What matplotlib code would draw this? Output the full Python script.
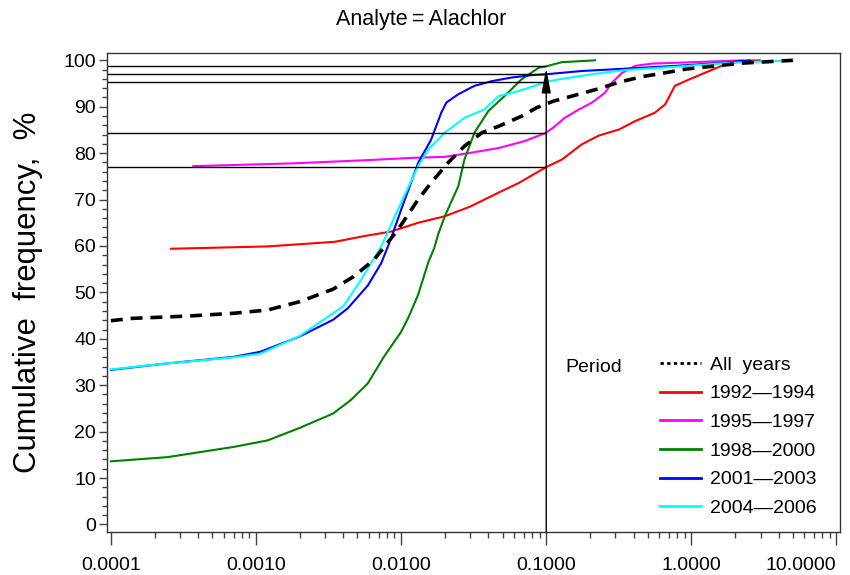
import matplotlib
matplotlib.use("Agg")
import matplotlib.pyplot as plt
from matplotlib.lines import Line2D
from matplotlib.ticker import FixedLocator, FixedFormatter, MultipleLocator

plt.rcParams['font.family'] = ['Liberation Sans', 'DejaVu Sans']

# cumulative frequency curves, concentration (x) vs cumulative % (y)
red_x = [0.00026, 0.0012, 0.0035, 0.0055, 0.0085, 0.0131, 0.020, 0.030, 0.047, 0.065, 0.100, 0.128,
         0.176, 0.231, 0.318, 0.41, 0.56, 0.66, 0.77, 0.97, 1.33, 1.64, 2.25, 2.96]
red_y = [59.4, 59.9, 60.9, 62.1, 63.1, 65.0, 66.4, 68.5, 71.5, 73.6, 77.0, 78.6,
         81.9, 83.8, 85.1, 86.9, 88.7, 90.5, 94.5, 95.9, 97.7, 98.9, 99.9, 100.0]

magenta_x = [0.00037, 0.0018, 0.0059, 0.0123, 0.020, 0.0305, 0.047, 0.071, 0.100, 0.115, 0.134,
             0.168, 0.207, 0.254, 0.284, 0.333, 0.41, 0.54, 1.02, 2.25]
magenta_y = [77.2, 77.8, 78.5, 79.0, 79.2, 80.1, 81.1, 82.6, 84.4, 85.8, 87.6,
             89.4, 90.9, 93.0, 95.2, 97.3, 98.8, 99.3, 99.6, 100.0]

green_x = [0.0001, 0.000245, 0.0007, 0.0012, 0.002, 0.0034, 0.0045, 0.0059, 0.0076, 0.010, 0.0112,
           0.0131, 0.0154, 0.0169, 0.018, 0.020, 0.0248, 0.0273, 0.032, 0.040, 0.0516, 0.0676,
           0.0887, 0.100, 0.128, 0.217]
green_y = [13.6, 14.5, 16.7, 18.1, 20.8, 23.9, 26.8, 30.4, 36.1, 41.5, 44.5,
           49.5, 56.5, 59.5, 62.5, 66.4, 72.9, 78.6, 84.4, 89.1, 92.3, 95.9,
           98.4, 98.7, 99.6, 100.0]

blue_x = [0.0001, 0.000245, 0.0007, 0.00107, 0.002, 0.0034, 0.0043, 0.0059, 0.0073, 0.0085, 0.010,
          0.0117, 0.0131, 0.0161, 0.0189, 0.0205, 0.0248, 0.032, 0.042, 0.058, 0.079, 0.100,
          0.176, 0.35, 0.77, 1.72, 2.52]
blue_y = [33.3, 34.7, 36.1, 37.2, 40.5, 44.1, 46.6, 51.5, 56.3, 61.5, 67.8,
          73.6, 77.9, 82.9, 88.7, 90.9, 92.7, 94.5, 95.5, 96.3, 96.8, 97.0,
          97.7, 98.2, 98.8, 99.5, 100.0]

cyan_x = [0.0001, 0.000245, 0.0007, 0.00107, 0.002, 0.004, 0.0053, 0.0073, 0.010, 0.0131, 0.0154,
          0.020, 0.0273, 0.0375, 0.047, 0.065, 0.089, 0.100, 0.128, 0.207, 0.35, 0.77, 1.72, 5.0]
cyan_y = [33.4, 34.7, 36.0, 36.8, 40.6, 47.0, 52.7, 59.9, 69.3, 77.2, 80.8,
          84.4, 87.6, 89.4, 92.3, 93.4, 94.8, 95.4, 96.0, 97.0, 97.9, 98.6, 99.4, 100.0]

all_x = [0.0001, 0.00014, 0.00034, 0.0007, 0.0012, 0.002, 0.0034, 0.0047, 0.0065, 0.0095, 0.0131,
         0.0161, 0.021, 0.0273, 0.036, 0.047, 0.068, 0.086, 0.112, 0.168, 0.231, 0.318, 0.46,
         0.63, 0.91, 1.47, 2.25, 5.0]
all_y = [43.9, 44.4, 44.9, 45.5, 46.2, 48.0, 50.7, 53.4, 57.0, 63.5, 70.0,
         73.6, 77.9, 81.5, 84.4, 85.8, 88.0, 89.8, 91.2, 92.7, 93.9, 95.3, 96.5,
         97.2, 98.1, 98.8, 99.4, 100.0]

periods = ["1992\u20141994", "1995\u20141997", "1998\u20142000", "2001\u20142003", "2004\u20142006"]
colors = ["#ff0000", "#ff00ff", "#008000", "#0000ff", "#00ffff"]

# reference cut-off and the level each period reaches there
cutoff = 0.1
ref_levels = [77.0, 84.4, 95.4, 97.0, 98.7]

x_ticks = [0.0001, 0.001, 0.01, 0.1, 1, 10]
x_labels = ["0.0001", "0.0010", "0.0100", "0.1000", "1.0000", "10.0000"]

fig = plt.figure(figsize=(8.5, 5.75), dpi=100)
ax = fig.add_axes([0.126, 0.075, 0.862, 0.833])

xmin, xmax = 10 ** -4.026, 10 ** 1.023
ymin, ymax = -1.6, 101.6

series = [(red_x, red_y), (magenta_x, magenta_y), (green_x, green_y),
          (blue_x, blue_y), (cyan_x, cyan_y)]
for (xs, ys), c in zip(series, colors):
    ax.plot(xs, ys, color=c, lw=1.5, solid_joinstyle='round')
ax.plot(all_x, all_y, color='black', lw=2.6, dashes=(3.3, 2.2))

ax.hlines(ref_levels, xmin, cutoff, color='black', lw=1.0)
ax.annotate('', xy=(cutoff, 98.3), xytext=(cutoff, ymin),
            arrowprops=dict(arrowstyle='-|>,head_width=0.28,head_length=1.5',
                            color='black', lw=1.0, shrinkA=0, shrinkB=0))

ax.set_xscale('log')
ax.set_xlim(xmin, xmax)
ax.set_ylim(ymin, ymax)
ax.xaxis.set_major_locator(FixedLocator(x_ticks))
ax.xaxis.set_major_formatter(FixedFormatter(x_labels))
ax.yaxis.set_major_locator(MultipleLocator(10))
ax.yaxis.set_minor_locator(MultipleLocator(2))

ax.tick_params(axis='both', which='both', direction='out', labelsize=14, width=1, color='#444444')
ax.tick_params(axis='x', which='major', length=9, pad=9)
ax.tick_params(axis='x', which='minor', length=4.5)
ax.tick_params(axis='y', which='major', length=6, pad=2)
ax.tick_params(axis='y', which='minor', length=3.5)
for sp in ax.spines.values():
    sp.set_color('#333333')
    sp.set_linewidth(1.0)

# last label is pulled inside the figure, as in the original
fig.canvas.draw()
ax.get_xticklabels()[-1].set_horizontalalignment('right')

ax.set_ylabel('Cumulative  frequency,  %', fontsize=22.4, labelpad=15)
fig.text(0.496, 1 - 20 / 575, 'Analyte\u2009=\u2009Alachlor', ha='center', va='center', fontsize=15.5)

handles = [Line2D([], [], color='black', lw=2, dashes=(1.2, 1.2))]
handles += [Line2D([], [], color=c, lw=2) for c in colors]
labels = ["All  years"] + periods
ax.legend(handles, labels, loc='upper left', bbox_to_anchor=(660 / 850, 1 - 356 / 575),
          bbox_transform=fig.transFigure, frameon=False, fontsize=14, handlelength=2.1,
          handletextpad=0.45, labelspacing=0.57, borderpad=0, borderaxespad=0)
fig.text(565 / 850, 1 - 368 / 575, 'Period', ha='left', va='center', fontsize=14)

fig.savefig('out.png', dpi=100)
